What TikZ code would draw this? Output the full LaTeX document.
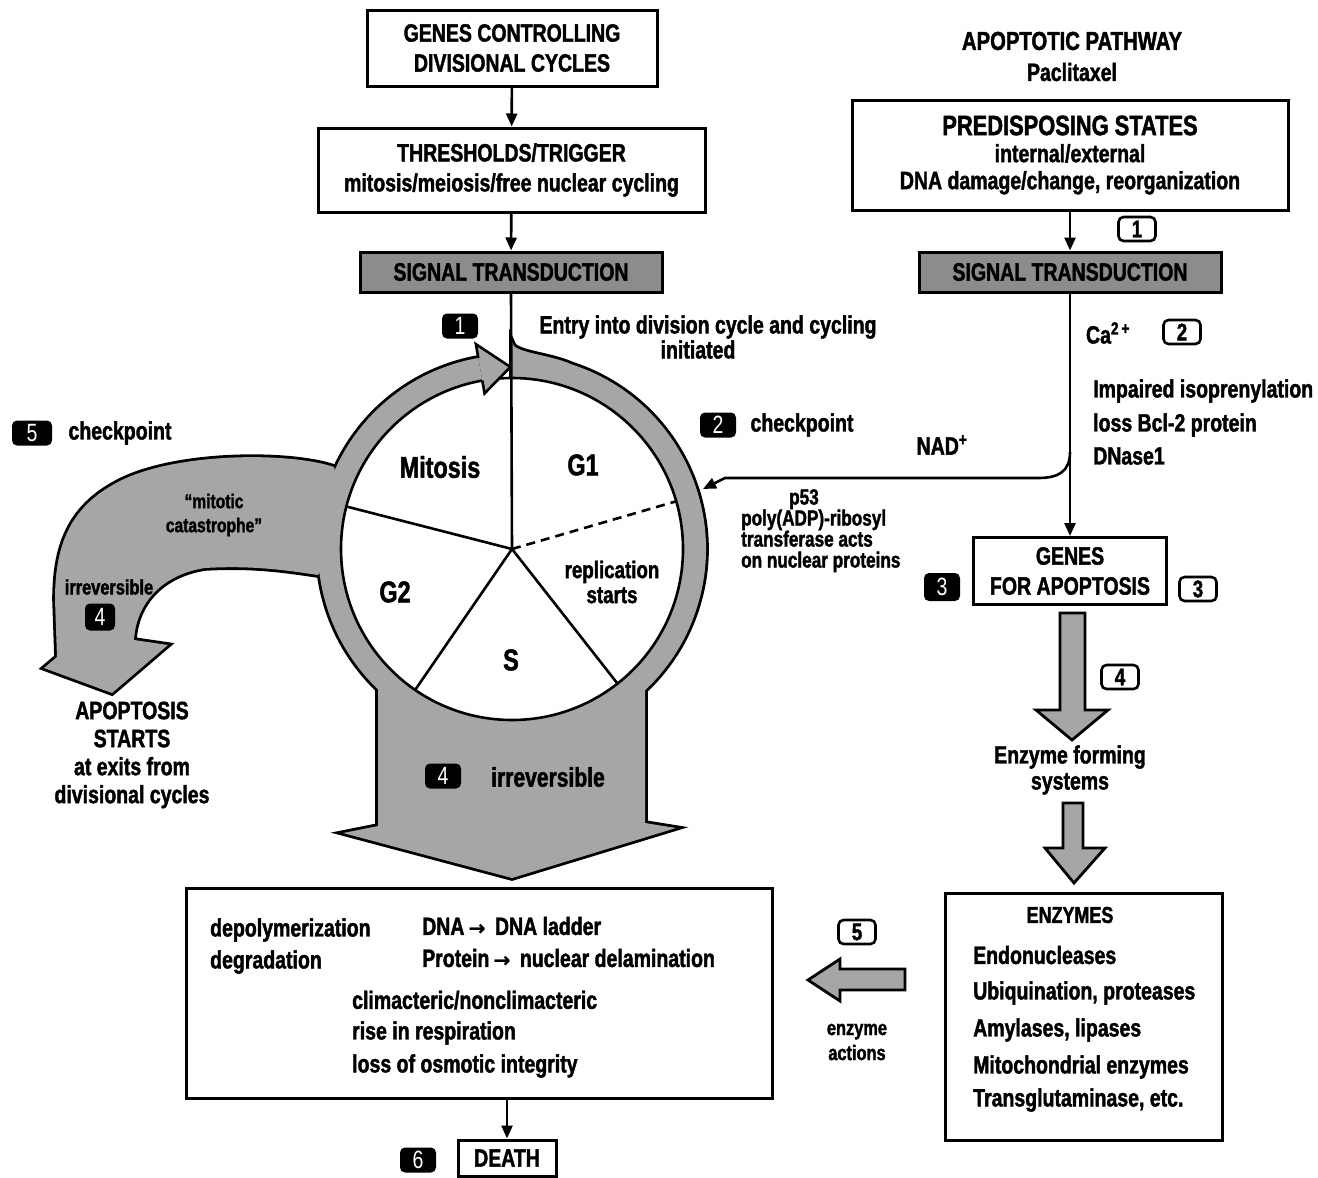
\documentclass[tikz,border=0pt]{standalone}
\usepackage{fontspec}
\setmainfont{Liberation Sans}[FakeStretch=0.78, BoldFeatures={FakeBold=1.6}]
\newfontfamily\dvfont{DejaVu Sans}[BoldFeatures={FakeBold=1.2}]
\usetikzlibrary{arrows.meta}
\newcommand\FS[2]{\fontsize{#1}{#2}\selectfont}
\newcommand\rar{\,{\dvfont\bfseries\FS{20}{20}→}\,}
\begin{document}
\begin{tikzpicture}[x=1pt,y=1pt,
  every node/.style={inner sep=0pt},
  box/.style={draw, line width=3pt, fill=white, align=center, font=\bfseries\FS{25}{30}},
  sig/.style={draw, line width=3pt, fill=black!45, minimum width=302, minimum height=40, font=\bfseries\FS{25}{30}},
  nb/.style={fill=black, text=white, rounded corners=5pt, minimum width=36, minimum height=25, font=\FS{25}{25}},
  no/.style={draw, line width=2.6pt, rounded corners=5pt, minimum width=37, minimum height=24, font=\bfseries\FS{24}{24}},
  lbl/.style={font=\bfseries\FS{25}{28}, align=center},
  lw/.style={font=\bfseries\FS{25}{28}, anchor=west, align=left},
  arr/.style={line width=2.6pt, -{Triangle[length=13pt,width=11pt]}},
  ln/.style={line width=2.6pt},
  shade/.style={fill=black!35},
  outl/.style={draw, line width=5.6pt},
  blk/.style={fill=black!35, draw, line width=2.8pt}
]
\useasboundingbox[fill=white] (0,0) rectangle (1318,-1178);

% ---------- cycle ring with its two exits ----------
\coordinate (C) at (512,-549);
\foreach \m in {outl,shade}{
  \path[\m, shift={(C)}] (0,207) .. controls (0,196) and (37,195) .. (72:194)
     arc[start angle=72, end angle=-260, radius=194] -- (100:171)
     arc[start angle=-260, end angle=90, radius=171] -- cycle;
  \path[\m] (334,-467) .. controls (290,-452) and (175,-452) .. (118,-482)
     .. controls (68,-508) and (55,-548) .. (55,-600) -- (57,-657) -- (44,-668)
     -- (112,-693) -- (168,-645) -- (134,-640)
     .. controls (136,-605) and (160,-575) .. (205,-568)
     .. controls (255,-565) and (290,-571) .. (318,-575) -- (350,-530) -- cycle;
  \path[\m] (378,-660) -- (378,-826) -- (343,-833) -- (512,-878) -- (676,-828)
     -- (645,-823) -- (645,-660) -- cycle;
}
\draw[ln, fill=white] (C) circle[radius=171];
\begin{scope}[shift={(C)}]
  \fill[black!35] (100:208) -- (90.5:182) -- (100:158) -- cycle;
  \draw[ln] (100:194) -- (100:208) -- (90.5:182) -- (100:158) -- (100:171);
  \draw[ln] (0,0) -- (165.6:171);
  \draw[ln] (0,0) -- (235.5:171);
  \draw[ln] (0,0) -- (-51.9:171);
  \draw[ln, dash pattern=on 9pt off 6pt] (0,0) -- (16.2:171);
\end{scope}

% ---------- left column boxes ----------
\node[box, minimum width=290, minimum height=76] (gcdc) at (512,-48) {GENES CONTROLLING\\DIVISIONAL CYCLES};
\node[box, minimum width=387, minimum height=84] (thr) at (511.5,-170) {THRESHOLDS/TRIGGER\\mitosis/meiosis/free nuclear cycling};
\node[sig] (sigL) at (511,-272) {SIGNAL TRANSDUCTION};
\draw[arr] (gcdc) -- (thr);
\draw[arr] (thr) -- (sigL);
\draw[ln] (sigL.south) -- (C);

\node[nb] (n1) at (460,-326) {1};
\node[lbl, font=\bfseries\FS{25}{25}] (entry) at (708,-337) {Entry into division cycle and cycling\\\hspace*{-20pt}initiated};
\node[nb] (n2) at (718,-425) {2};
\node[lbl] (chk2) at (802,-425) {checkpoint};
\node[nb, minimum width=40] (n5) at (32,-433) {5};
\node[lbl] (chk5) at (120,-433) {checkpoint};

\node[lbl, font=\bfseries\FS{30}{30}] (mit) at (440,-467) {Mitosis};
\node[lbl, font=\bfseries\FS{30}{30}] (g1) at (583,-465) {G1};
\node[lbl, font=\bfseries\FS{30}{30}] (g2) at (395,-592) {G2};
\node[lbl, font=\bfseries\FS{30}{30}] (sph) at (511,-660) {S};
\node[lbl, font=\bfseries\FS{24}{25}] (rep) at (612,-582) {replication\\starts};

\node[lbl, font=\bfseries\FS{20}{24}] (mc) at (214,-515) {“mitotic\\catastrophe”};
\node[lbl, font=\bfseries\FS{21}{24}] (irr1) at (109,-587) {irreversible};
\node[nb, minimum width=30, minimum height=27] (n4a) at (100,-617) {4};
\node[nb] (n4b) at (443,-776) {4};
\node[lbl, font=\bfseries\FS{27}{27}] (irr2) at (548,-777) {irreversible};

\node[lbl] (aps) at (132,-755) {APOPTOSIS\\STARTS\\at exits from\\divisional cycles};

% ---------- right column ----------
\node[lbl, font=\bfseries\FS{26}{28}] (app) at (1072,-41) {APOPTOTIC PATHWAY};
\node[lbl] (pac) at (1072,-72) {Paclitaxel};
\node[box, minimum width=436, minimum height=110] (pre) at (1070,-155)
  {{\FS{28}{30}PREDISPOSING STATES}\\[-3pt]internal/external\\[-3pt]DNA damage/change, reorganization};
\node[no] (n1r) at (1137,-229) {1};
\node[sig] (sigR) at (1070,-272) {SIGNAL TRANSDUCTION};
\draw[arr] (pre) -- (sigR);

\node[lbl] (ca) at (1108,-333) {Ca\textsuperscript{2\,+}};
\node[no] (n2r) at (1182,-332) {2};
\node[lw] (imp) at (1093,-391) {Impaired isoprenylation};
\node[lw] (bcl) at (1093,-425) {loss Bcl-2 protein};
\node[lw] (dna1) at (1093,-456) {DNase1};

\node[box, minimum width=193, minimum height=67] (gapo) at (1070,-571) {GENES\\FOR APOPTOSIS};
\draw[arr] (sigR) -- (gapo);
\coordinate (split) at (1070,-452);
\coordinate (nadtip) at (703,-489);
\draw[arr] (split) .. controls (1070,-472) and (1058,-478) .. (1038,-478) -- (725,-478) -- (nadtip);
\node[lbl] (nad) at (942,-445) {NAD\textsuperscript{+}};
\node[lw, font=\bfseries\FS{22}{21}, anchor=north west] (p53) at (741,-489)
  {\hspace*{48pt}p53\\poly(ADP)-ribosyl\\transferase acts\\on nuclear proteins};

\node[nb, minimum height=28] (n3b) at (942,-587) {3};
\node[no] (n3r) at (1198,-589) {3};

\path[blk] (1060,-613) -- (1060,-710) -- (1036,-710) -- (1072,-740) -- (1108,-710) -- (1085,-710) -- (1085,-613) -- cycle;
\node[no] (n4r) at (1120,-677) {4};
\node[lbl, font=\bfseries\FS{25}{26}] (efs) at (1070,-770) {Enzyme forming\\systems};
\path[blk] (1063,-803) -- (1063,-848) -- (1045,-848) -- (1074,-883) -- (1105,-848) -- (1083,-848) -- (1083,-803) -- cycle;

\node[box, minimum width=277, minimum height=247] (enz) at (1083.5,-1016.5) {};
\node[lbl, font=\bfseries\FS{23}{25}] (enzh) at (1070,-915) {ENZYMES};
\node[lw] (e1) at (973,-955) {Endonucleases};
\node[lw] (e2) at (973,-993) {Ubiquination, proteases};
\node[lw] (e3) at (973,-1030) {Amylases, lipases};
\node[lw] (e4) at (973,-1067) {Mitochondrial enzymes};
\node[lw] (e5) at (973,-1100) {Transglutaminase, etc.};

\node[no] (n5r) at (857,-932) {5};
\path[blk] (808,-980) -- (840,-959) -- (840,-969) -- (905,-969) -- (905,-990) -- (840,-990) -- (840,-1001) -- cycle;
\node[lbl, font=\bfseries\FS{21}{25}] (ea) at (857,-1042) {enzyme\\actions};

% ---------- result box ----------
\node[box, minimum width=586, minimum height=210] (res) at (479,-993) {};
\node[lw] (b1) at (210,-930) {depolymerization};
\node[lw] (b2) at (210,-962) {degradation};
\node[lw] (b3) at (422,-926) {DNA\rar\ DNA ladder};
\node[lw] (b4) at (422,-958) {Protein\rar\ nuclear delamination};
\node[lw] (b5) at (352,-1000) {climacteric/nonclimacteric};
\node[lw] (b6) at (352,-1033) {rise in respiration};
\node[lw] (b7) at (352,-1066) {loss of osmotic integrity};

\node[box, minimum width=98, minimum height=36] (death) at (507,-1158) {DEATH};
\draw[arr] (res.south -| death) -- (death.north);
\node[nb] (n6) at (418,-1160) {6};
\end{tikzpicture}
\end{document}
